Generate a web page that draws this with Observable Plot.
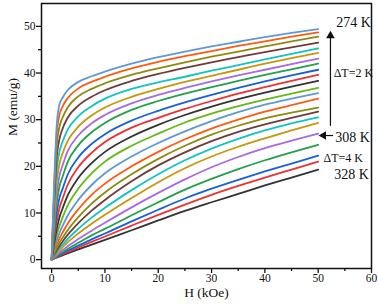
<!DOCTYPE html>
<html><head><meta charset="utf-8">
<script src="https://cdn.jsdelivr.net/npm/d3@7"></script>
<script src="https://cdn.jsdelivr.net/npm/@observablehq/plot@0.6"></script>
<style>
html,body{margin:0;padding:0;background:#fff}
#chart svg{display:block}
</style>
</head><body><div id="chart"></div>
<script>
// Field values (kOe)
const H = [0, 1, 1.5, 2, 3, 5, 7.5, 10, 15, 20, 25, 30, 35, 40, 45, 50];
// Temperatures (K)
const temps = [274, 276, 278, 280, 282, 284, 286, 288, 290, 292, 294, 296, 298, 300, 302, 304, 306, 308, 312, 316, 320, 324, 328];
// Magnetization M (emu/g) for each temperature
const M274 = [0, 29.5, 33.4, 34.6, 36.3, 38.1, 39.3, 40.3, 42.0, 43.4, 44.6, 45.7, 46.7, 47.7, 48.6, 49.4];
const M276 = [0, 27.5, 31.2, 32.7, 34.6, 36.7, 38.1, 39.2, 41.0, 42.4, 43.6, 44.7, 45.8, 46.8, 47.8, 48.7];
const M278 = [0, 25.0, 28.6, 30.3, 32.6, 35.0, 36.6, 37.8, 39.6, 41.0, 42.3, 43.5, 44.6, 45.7, 46.8, 47.8];
const M280 = [0, 22.5, 26.0, 27.9, 30.4, 33.0, 34.9, 36.3, 38.3, 39.8, 41.1, 42.3, 43.4, 44.5, 45.5, 46.5];
const M282 = [0, 19.8, 23.3, 25.1, 27.8, 30.7, 32.9, 34.5, 36.6, 38.0, 39.2, 40.5, 41.7, 42.9, 44.1, 45.3];
const M284 = [0, 17.2, 20.7, 22.6, 25.4, 28.5, 30.9, 32.6, 34.9, 36.6, 38.1, 39.4, 40.7, 42.0, 43.2, 44.3];
const M286 = [0, 14.7, 18.2, 20.0, 23.2, 26.6, 29.2, 31.0, 33.5, 35.3, 36.8, 38.2, 39.5, 40.7, 41.9, 43.1];
const M288 = [0, 12.5, 15.9, 17.6, 20.9, 24.5, 27.3, 29.3, 32.1, 34.0, 35.6, 37.0, 38.3, 39.6, 40.8, 42.0];
const M290 = [0, 10.3, 13.4, 15.0, 18.2, 21.9, 24.8, 26.9, 29.8, 31.9, 33.7, 35.3, 36.8, 38.2, 39.5, 40.7];
const M292 = [0, 8.5, 11.2, 12.9, 16.0, 19.8, 22.9, 25.2, 28.3, 30.4, 32.3, 34.0, 35.6, 37.0, 38.3, 39.6];
const M294 = [0, 6.8, 9.2, 10.8, 13.7, 17.5, 20.7, 23.1, 26.4, 28.9, 31.0, 32.8, 34.4, 35.8, 37.1, 38.3];
const M296 = [0, 5.4, 7.3, 8.9, 11.6, 15.2, 18.5, 21.0, 24.4, 27.0, 29.4, 31.3, 32.9, 34.3, 35.6, 36.8];
const M298 = [0, 4.2, 5.8, 7.1, 9.4, 12.8, 16.0, 18.5, 22.1, 25.0, 27.5, 29.7, 31.6, 33.2, 34.5, 35.7];
const M300 = [0, 3.3, 4.6, 5.7, 7.7, 10.8, 13.9, 16.3, 20.0, 23.1, 25.8, 28.1, 30.0, 31.7, 33.1, 34.5];
const M302 = [0, 2.6, 3.7, 4.6, 6.3, 9.1, 12.0, 14.4, 18.3, 21.6, 24.4, 26.8, 28.7, 30.3, 31.5, 32.6];
const M304 = [0, 2.1, 3.0, 3.8, 5.3, 7.8, 10.5, 12.8, 16.8, 20.2, 23.0, 25.4, 27.4, 29.0, 30.4, 31.7];
const M306 = [0, 1.7, 2.5, 3.1, 4.4, 6.6, 9.0, 11.1, 14.9, 18.3, 21.3, 23.8, 25.9, 27.7, 29.2, 30.5];
const M308 = [0, 1.4, 2.0, 2.6, 3.7, 5.6, 7.7, 9.6, 13.2, 16.6, 19.6, 22.1, 24.2, 26.0, 27.7, 29.3];
const M312 = [0, 1.0, 1.5, 1.95, 2.85, 4.4, 6.2, 7.9, 11.2, 14.3, 17.2, 19.8, 22.0, 23.9, 25.5, 27.0];
const M316 = [0, 0.8, 1.2, 1.55, 2.3, 3.6, 5.2, 6.6, 9.5, 12.3, 15.0, 17.3, 19.4, 21.3, 23.0, 24.6];
const M320 = [0, 0.65, 1.0, 1.3, 1.9, 3.0, 4.35, 5.6, 8.2, 10.7, 13.1, 15.2, 17.1, 18.9, 20.6, 22.3];
const M324 = [0, 0.55, 0.83, 1.1, 1.6, 2.6, 3.8, 4.95, 7.3, 9.6, 11.8, 13.9, 15.8, 17.6, 19.3, 21.0];
const M328 = [0, 0.45, 0.68, 0.9, 1.35, 2.2, 3.2, 4.25, 6.3, 8.4, 10.45, 12.3, 14.1, 15.9, 17.6, 19.3];
const series = [M274, M276, M278, M280, M282, M284, M286, M288, M290, M292, M294, M296, M298, M300, M302, M304, M306, M308, M312, M316, M320, M324, M328];
// Line colours, same order as temps
const colors = ["#5b9bd5", "#ff5a10", "#8b8b10", "#6e3c3c", "#10c4c4", "#c8960a", "#a86ae0", "#22a04a", "#1560dd", "#f03030", "#333333", "#66b814",
                "#5b9bd5", "#ff5a10", "#8b8b10", "#6e3c3c", "#10c4c4", "#c8960a", "#a86ae0", "#22a04a", "#1560dd", "#f03030", "#333333"];
// Axis ticks
const xTicks = [0, 10, 20, 30, 40, 50, 60];
const xMinor = [5, 15, 25, 35, 45, 55];
const yTicks = [0, 10, 20, 30, 40, 50];
const yMinor = [5, 15, 25, 35, 45];
// Annotations
const labels = [
  {text: "274 K", x: 53.4, y: 50.8, size: 14},
  {text: "\u0394T=2 K", x: 52.9, y: 40.0, size: 12},
  {text: "308 K", x: 53.2, y: 26.1, size: 14},
  {text: "\u0394T=4 K", x: 51.0, y: 21.8, size: 12},
  {text: "328 K", x: 53.0, y: 18.3, size: 14}
];
const arrows = [{x1: 52.3, y1: 28.7, x2: 52.3, y2: 47.6}, {x1: 52.8, y1: 26.6, x2: 51.3, y2: 26.6}];
const heads = [{x: 52.3, y: 48.0, rot: 0}, {x: 51.0, y: 26.6, rot: -90}];

const rows = [];
temps.forEach((t, i) => series[i].forEach((m, j) => rows.push({T: t, H: H[j], M: m, c: colors[i]})));

const font = "'Liberation Serif', 'Times New Roman', serif";
const chart = Plot.plot({
  width: 378, height: 304,
  marginLeft: 41, marginRight: 7, marginTop: 3, marginBottom: 36,
  style: {fontFamily: font, fontSize: "11.5px", color: "#111", background: "#fff"},
  x: {domain: [-1.9, 60]},
  y: {domain: [-1.9, 54.9]},
  color: {type: "identity"},
  marks: [
    Plot.line(rows.slice().reverse(), {x: "H", y: "M", z: "T", stroke: "c", strokeWidth: 1.8, curve: "monotone-x"}),
    Plot.frame({stroke: "#111", strokeWidth: 1.5}),
    Plot.axisX({ticks: xTicks, tickSize: 5, text: null, strokeWidth: 1.3, label: null}),
    Plot.axisX({ticks: xTicks, tickSize: 0, tickPadding: 5, label: null, fontSize: 11.5}),
    Plot.axisX({ticks: xMinor, tickSize: 3, text: null, strokeWidth: 1.3, label: null}),
    Plot.axisY({ticks: yTicks, tickSize: 5, tickPadding: 1, strokeWidth: 1.3, label: null, fontSize: 11.5}),
    Plot.axisY({ticks: yMinor, tickSize: 3, text: null, strokeWidth: 1.3, label: null}),
    Plot.text(["H (kOe)"], {frameAnchor: "bottom", dy: 28, fontSize: 13.5}),
    Plot.text(["M (emu/g)"], {frameAnchor: "left", dx: -29, rotate: -90, fontSize: 13.5}),
    Plot.link(arrows, {x1: "x1", y1: "y1", x2: "x2", y2: "y2", stroke: "#111", strokeWidth: 1.2}),
    Plot.dot(heads, {x: "x", y: "y", rotate: "rot", symbol: "triangle", r: 3.2, fill: "#111", stroke: "none"}),
    Plot.text(labels, {x: "x", y: "y", text: "text", fontSize: "size", textAnchor: "start", fill: "#111"})
  ]
});
document.getElementById("chart").appendChild(chart);
</script>
</body></html>
